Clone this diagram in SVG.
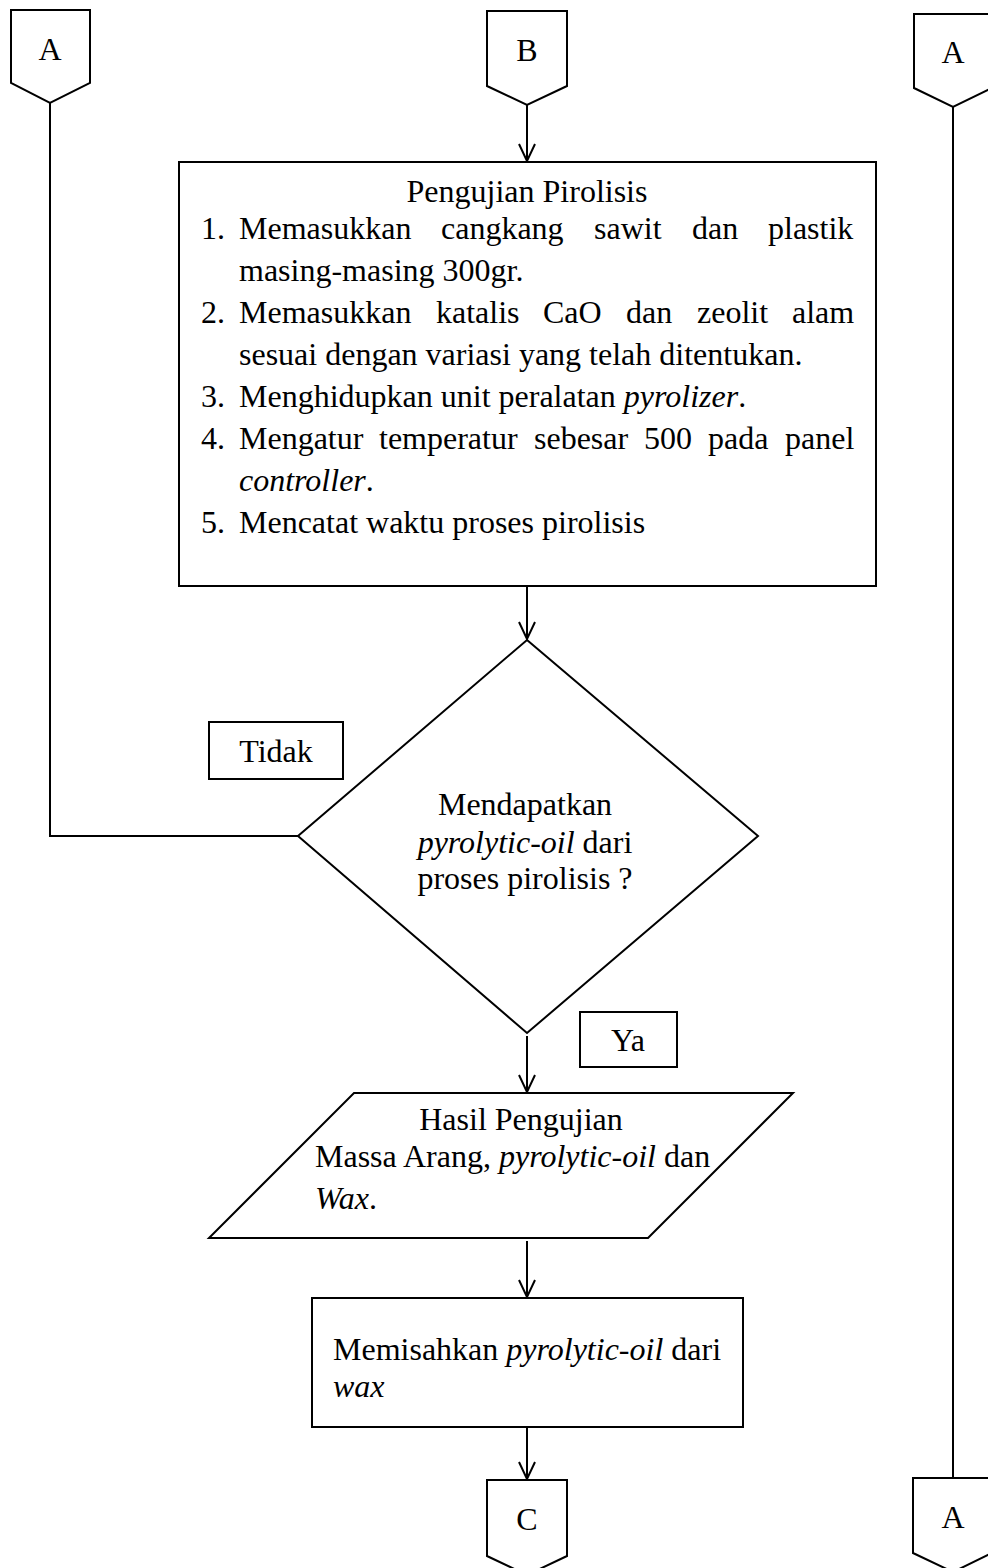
<svg xmlns="http://www.w3.org/2000/svg" width="988" height="1568" viewBox="0 0 988 1568">
<defs>
<marker id="arr" markerUnits="userSpaceOnUse" viewBox="0 0 20 20" markerWidth="20" markerHeight="20" refX="19" refY="10" orient="auto"><path d="M2,2 L19,10 L2,18" fill="none" stroke="#000" stroke-width="2"/></marker>
</defs>
<style>
.s{fill:#fff;stroke:#000;stroke-width:2}
.t{font-family:"Liberation Serif","Times New Roman",serif;font-size:32px;fill:#000}
.m{text-anchor:middle}
.i{font-style:italic}
.c{fill:none;stroke:#000;stroke-width:2}
</style>
<rect width="988" height="1568" fill="#fff"/>
<g id="connectors">
<path class="c" d="M50,103 V836 H298"/>
<path class="c" d="M527,105 V161" marker-end="url(#arr)"/>
<path class="c" d="M527,587 V639" marker-end="url(#arr)"/>
<path class="c" d="M527,1036 V1092" marker-end="url(#arr)"/>
<path class="c" d="M527,1241 V1297" marker-end="url(#arr)"/>
<path class="c" d="M527,1428 V1479" marker-end="url(#arr)"/>
<path class="c" d="M953,107 V1478"/>
</g>
<g id="conA1">
<polygon class="s" points="11,10 90,10 90,83 50,103 11,83"/>
<text class="t m" x="50" y="60">A</text>
</g>
<g id="conB">
<polygon class="s" points="487,11 567,11 567,86 527,105 487,86"/>
<text class="t m" x="527" y="61">B</text>
</g>
<g id="conA2">
<polygon class="s" points="914,14 992,14 992,88 953,107 914,88"/>
<text class="t m" x="953" y="63">A</text>
</g>
<g id="process">
<rect class="s" x="179" y="162" width="697" height="424"/>
<text class="t m" x="527" y="202">Pengujian Pirolisis</text>
<text class="t" y="239"><tspan x="201">1.</tspan><tspan x="239">Memasukkan</tspan><tspan x="441">cangkang</tspan><tspan x="594">sawit</tspan><tspan x="692">dan</tspan><tspan x="768">plastik</tspan></text>
<text class="t" x="239" y="281">masing-masing 300gr.</text>
<text class="t" y="323"><tspan x="201">2.</tspan><tspan x="239">Memasukkan</tspan><tspan x="436">katalis</tspan><tspan x="543">CaO</tspan><tspan x="626">dan</tspan><tspan x="697">zeolit</tspan><tspan x="792">alam</tspan></text>
<text class="t" x="239" y="365">sesuai dengan variasi yang telah ditentukan.</text>
<text class="t" y="407"><tspan x="201">3.</tspan><tspan x="239">Menghidupkan unit peralatan </tspan><tspan class="i">pyrolizer</tspan>.</text>
<text class="t" y="449"><tspan x="201">4.</tspan><tspan x="239">Mengatur</tspan><tspan x="379">temperatur</tspan><tspan x="534">sebesar</tspan><tspan x="644">500</tspan><tspan x="708">pada</tspan><tspan x="785">panel</tspan></text>
<text class="t" x="239" y="491"><tspan class="i">controller</tspan>.</text>
<text class="t" y="533"><tspan x="201">5.</tspan><tspan x="239">Mencatat waktu proses pirolisis</tspan></text>
</g>
<g id="decision">
<polygon class="s" points="527,640 758,836 527,1033 298,836"/>
<text class="t m" x="525" y="815">Mendapatkan</text>
<text class="t m" x="525" y="853"><tspan class="i">pyrolytic-oil</tspan> dari</text>
<text class="t m" x="525" y="889">proses pirolisis ?</text>
</g>
<g id="labelTidak">
<rect class="s" x="209" y="722" width="134" height="57"/>
<text class="t m" x="276" y="762">Tidak</text>
</g>
<g id="labelYa">
<rect class="s" x="580" y="1012" width="97" height="55"/>
<text class="t m" x="628" y="1051">Ya</text>
</g>
<g id="data">
<polygon class="s" points="354,1093 793,1093 648,1238 209,1238"/>
<text class="t m" x="521" y="1130">Hasil Pengujian</text>
<text class="t" x="315" y="1167">Massa Arang, <tspan class="i">pyrolytic-oil</tspan> dan</text>
<text class="t" x="315" y="1209"><tspan class="i">Wax</tspan>.</text>
</g>
<g id="separate">
<rect class="s" x="312" y="1298" width="431" height="129"/>
<text class="t" x="333" y="1360">Memisahkan <tspan class="i">pyrolytic-oil</tspan> dari</text>
<text class="t i" x="333" y="1397">wax</text>
</g>
<g id="conC">
<polygon class="s" points="487,1480 567,1480 567,1556 527,1575 487,1556"/>
<text class="t m" x="527" y="1530">C</text>
</g>
<g id="conA3">
<polygon class="s" points="913,1478 992,1478 992,1553 953,1572 913,1553"/>
<text class="t m" x="953" y="1528">A</text>
</g>
</svg>
